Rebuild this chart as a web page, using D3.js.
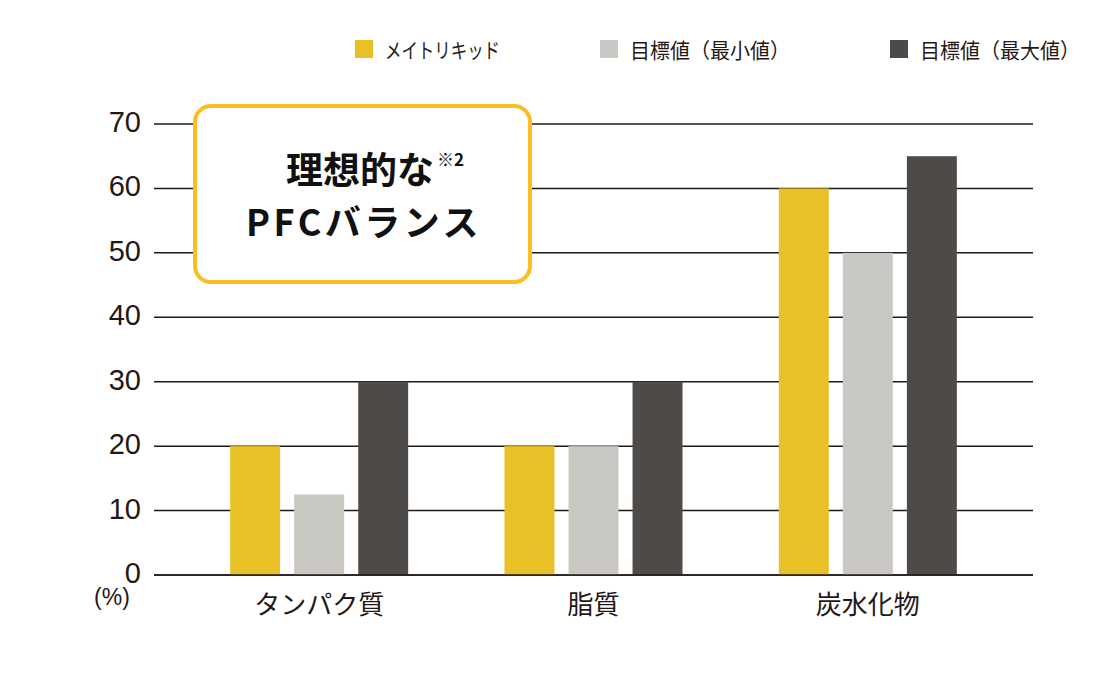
<!DOCTYPE html>
<html><head><meta charset="utf-8">
<script src="https://cdn.jsdelivr.net/npm/d3@7"></script>
<style>body{margin:0;background:#fff}svg{display:block}</style>
</head><body>
<svg id="c" width="1120" height="680"></svg>
<script>
const categories = ["タンパク質", "脂質", "炭水化物"];
const seriesNames = ["メイトリキッド", "目標値（最小値）", "目標値（最大値）"];
const meitoLiquid = [20, 20, 60];
const targetMin = [12.5, 20, 50];
const targetMax = [30, 30, 65];
const yTicks = [0, 10, 20, 30, 40, 50, 60, 70];
const colors = ["#e8c128", "#c9c8c3", "#4d4a47"];
const series = [meitoLiquid, targetMin, targetMax];

const svg = d3.select("#c");
const font = "'Noto Sans CJK JP', 'Noto Sans', sans-serif";
const ink = "#231815";
const plotL = 154, plotR = 1033, plotT = 124, plotB = 575;

const y = d3.scaleLinear().domain([0, 70]).range([plotB, plotT]);
const x0 = d3.scaleBand().domain(categories).range([182, 1005]).padding(0);
const x1 = d3.scaleBand().domain(d3.range(3)).range([0, 178]).paddingInner(0.22).paddingOuter(0);

// grid lines
svg.append("g").selectAll("line").data(yTicks).join("line")
  .attr("x1", plotL).attr("x2", plotR)
  .attr("y1", d => y(d)).attr("y2", d => y(d))
  .attr("stroke", ink).attr("stroke-width", 1.5);

// y tick labels
svg.append("g").selectAll("text").data(yTicks).join("text")
  .attr("x", 141).attr("y", d => y(d) + 8)
  .attr("text-anchor", "end").attr("font-family", "'Liberation Sans', Arial, sans-serif")
  .attr("font-size", 29).attr("fill", ink).text(d => d);
svg.append("text").attr("x", 112).attr("y", 605).attr("text-anchor", "middle")
  .attr("font-family", "'Liberation Sans', Arial, sans-serif").attr("font-size", 23).attr("fill", ink).text("(%)");

// bars
const groups = svg.append("g").selectAll("g").data(categories).join("g")
  .attr("transform", c => `translate(${x0(c) + (x0.bandwidth() - 178) / 2},0)`);
groups.selectAll("rect").data((c, i) => series.map((s, k) => ({k, v: s[i]}))).join("rect")
  .attr("x", d => x1(d.k)).attr("width", x1.bandwidth())
  .attr("y", d => y(d.v)).attr("height", d => y(0) - y(d.v))
  .attr("fill", d => colors[d.k]);

// baseline on top
svg.append("line").attr("x1", plotL).attr("x2", plotR).attr("y1", y(0)).attr("y2", y(0))
  .attr("stroke", ink).attr("stroke-width", 1.5);

// x labels
svg.append("g").selectAll("text").data(categories).join("text")
  .attr("x", c => x0(c) + x0.bandwidth() / 2).attr("y", 614)
  .attr("text-anchor", "middle").attr("font-family", font)
  .attr("font-size", 26).attr("fill", ink).text(c => c);

// legend
const legX = [355, 600, 890];
const legW = [115, 160, 160];
const leg = svg.append("g").selectAll("g").data(seriesNames).join("g")
  .attr("transform", (d, i) => `translate(${legX[i]},40)`);
leg.append("rect").attr("width", 18).attr("height", 18).attr("fill", (d, i) => colors[i]);
leg.append("text").attr("x", 30).attr("y", 18).attr("font-family", font)
  .attr("font-size", 21).attr("fill", ink)
  .attr("textLength", (d, i) => legW[i]).attr("lengthAdjust", "spacingAndGlyphs")
  .text(d => d);

// callout box
svg.append("rect").attr("x", 195).attr("y", 106).attr("width", 335).attr("height", 176)
  .attr("rx", 16).attr("ry", 16).attr("fill", "#fff")
  .attr("stroke", "#fbbd23").attr("stroke-width", 4);
const t1 = svg.append("text").attr("x", 286).attr("y", 184)
  .attr("font-family", font).attr("font-weight", 700).attr("font-size", 37).attr("fill", "#111");
t1.append("tspan").text("理想的な");
t1.append("tspan").attr("font-size", 17).attr("dy", -18).attr("dx", 3).text("※2");
svg.append("text").attr("x", 246).attr("y", 236)
  .attr("font-family", font).attr("font-weight", 700).attr("font-size", 36)
  .attr("letter-spacing", 3.5)
  .attr("fill", "#111").text("PFCバランス");
</script>
</body></html>
